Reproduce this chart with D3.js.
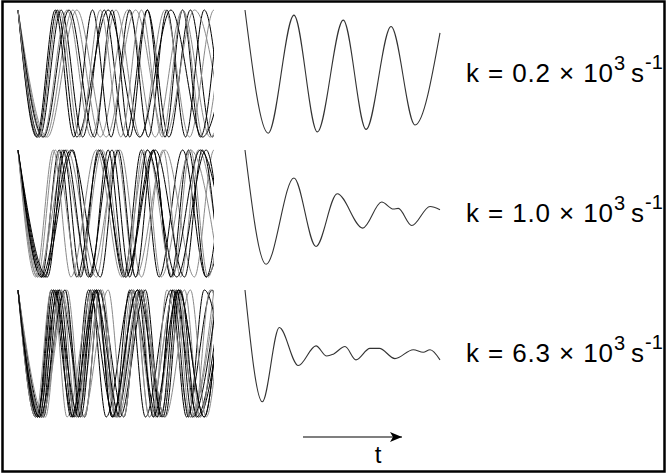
<!DOCTYPE html>
<html><head><meta charset="utf-8">
<script src="https://cdn.jsdelivr.net/npm/d3@7"></script>
<style>html,body{margin:0;padding:0;background:#fff}svg{display:block}</style>
</head><body>
<svg id="c" width="668" height="475"></svg>
<script>
// ---- data ----
const rateLabels = ["0.2", "1.0", "6.3"];          // k × 10^3 s^-1
// individual trajectories: times (0..100) of successive extrema, starting at a maximum
const tracesRow1 = [
  [0,11,22,33,44,55,66,77,88,99,110],
  [0,14,28,42,56,70,84,98,112],
  [0,9.5,19,28.5,38,47.5,57,66.5,76,85.5,95,104.5],
  [0,12.5,25,37.5,50,62.5,75,87.5,100,112.5],
  [0,10,20,30,46,62,78,94,110],
  [0,15,30,45,60,75,90,105],
  [0,13,26,39,48,57,66,75,84,93,102],
  [0,10.5,21,31.5,42,52.5,63,73.5,84,94.5,105]
];
const tracesRow2 = [
  [0,12,21,30,42,54,63,72,84,96,105],
  [0,10,25,40,50,60,75,90,100,110],
  [0,14,23,32,41,55,69,78,87,96,110],
  [0,11,22,37,52,63,74,83,92,104],
  [0,13,28,37,46,55,70,85,94,103],
  [0,10,19,31,43,55,64,73,88,103],
  [0,12,27,42,51,60,69,78,93,108],
  [0,9,18,27,40,53,66,79,88,97,106],
  [0,15,24,36,48,57,66,81,96,105]
];
const tracesRow3 = [
  [0,10,17,28,36,49,57,65,78,86,99,107],
  [0,12,24,31,38,50,62,69,76,88,100],
  [0,9,21,29,37,45,58,71,79,87,95,108],
  [0,11,18,25,38,51,59,67,80,93,101],
  [0,13,21,34,42,50,63,71,79,92,105],
  [0,10,22,34,42,50,58,70,82,90,98,110],
  [0,12,20,28,41,54,62,75,83,91,104],
  [0,9,17,30,43,51,59,67,80,88,101],
  [0,11,24,32,40,48,61,74,82,95,103],
  [0,14,22,30,38,51,64,72,85,93,101],
  [0,10,18,31,39,52,65,73,81,89,102],
  [0,12,25,33,46,54,62,75,88,96,104],
  [0,11,19,27,40,48,61,69,82,95,103]
];
// averaged signals: [time, amplitude]
const avgRow1 = [[0,1.0],[11.9,-0.94],[25.1,0.92],[37.1,-0.92],[50.4,0.84],[62.1,-0.88],[74.9,0.74],[87.2,-0.81],[100,0.64]];
const avgRow2 = [[0,1.0],[10.8,-0.80],[25.1,0.56],[36.4,-0.52],[47.3,0.31],[60.4,-0.23],[70.1,0.18],[76.1,0.07],[78.6,0.08],[85.5,-0.19],[94.9,0.11],[100,0.06]];
const avgRow3 = [[0,1.0],[8.9,-0.76],[17.6,0.41],[27.3,-0.19],[36.4,0.12],[41.9,-0.04],[45.3,-0.01],[51.3,0.11],[56.9,-0.10],[64.1,0.08],[68.9,0.08],[76.9,-0.08],[86.3,0.06],[91.4,0.02],[94.9,0.06],[100,-0.10]];

const rows = [
  {traces: tracesRow1, avg: avgRow1, k: rateLabels[0]},
  {traces: tracesRow2, avg: avgRow2, k: rateLabels[1]},
  {traces: tracesRow3, avg: avgRow3, k: rateLabels[2]}
];

// ---- drawing ----
const svg = d3.select("#c");
svg.append("rect").attr("x",2.5).attr("y",1.5).attr("width",662).attr("height",470)
  .attr("fill","none").attr("stroke","#000").attr("stroke-width",2.5);

const xLeft = d3.scaleLinear().domain([0,100]).range([18,214]);
const xMid  = d3.scaleLinear().domain([0,100]).range([245,440]);

svg.append("defs").append("clipPath").attr("id","clipL")
  .append("rect").attr("x",17).attr("y",0).attr("width",197).attr("height",475);

rows.forEach((r, i) => {
  const off = 140 * i;
  const y = d3.scaleLinear().domain([-1,1]).range([137 + off, 10 + off]);
  const lineL = d3.line().x(d => xLeft(d[0])).y(d => y(d[1])).curve(d3.curveMonotoneX);
  const gL = svg.append("g").attr("clip-path","url(#clipL)");
  r.traces.forEach((tr, j) => {
    const pts = tr.map((t, n) => [t, n % 2 === 0 ? 1 : -1]);
    gL.append("path").attr("d", lineL(pts)).attr("fill","none")
      .attr("stroke", j % 2 === 0 ? "#000" : "#8a8a8a").attr("stroke-width",1);
  });
  const lineM = d3.line().x(d => xMid(d[0])).y(d => y(d[1])).curve(d3.curveMonotoneX);
  svg.append("path").attr("d", lineM(r.avg)).attr("fill","none")
    .attr("stroke","#333").attr("stroke-width",1.1);

  const base = 82 + off;
  const t = svg.append("text").attr("y", base)
    .attr("font-family","'Liberation Sans', Arial, sans-serif").attr("fill","#000");
  t.append("tspan").attr("x",466).attr("font-size",26)
    .attr("textLength",147).attr("lengthAdjust","spacing").text(`k = ${r.k} \u00d7 10`);
  t.append("tspan").attr("x",614).attr("y",base-12).attr("font-size",20).text("3");
  t.append("tspan").attr("x",631).attr("y",base).attr("font-size",26).text("s");
  t.append("tspan").attr("x",645).attr("y",base-13).attr("font-size",20).text("-1");
});

// time arrow
svg.append("defs").append("marker").attr("id","ah").attr("viewBox","0 0 12 10")
  .attr("refX",12).attr("refY",5).attr("markerWidth",12).attr("markerHeight",10)
  .attr("markerUnits","userSpaceOnUse").attr("orient","auto")
  .append("path").attr("d","M0,0 L12,5 L0,10 L3,5 Z").attr("fill","#000");
svg.append("line").attr("x1",303).attr("y1",437).attr("x2",402).attr("y2",437)
  .attr("stroke","#000").attr("stroke-width",1.2).attr("marker-end","url(#ah)");
svg.append("text").attr("x",378).attr("y",463).attr("text-anchor","middle")
  .attr("font-family","'Liberation Sans', Arial, sans-serif").attr("font-size",24).text("t");
</script>
</body></html>
